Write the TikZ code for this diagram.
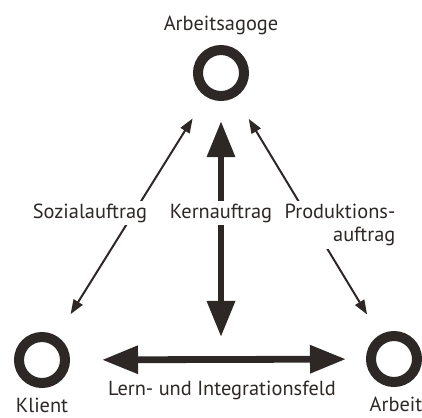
\documentclass[tikz,border=0pt]{standalone}
\usepackage{fontspec}
\setmainfont{PT Sans}
\usepackage{tikz}
\usetikzlibrary{positioning,arrows.meta}
\definecolor{inkdark}{RGB}{45,40,38}
\tikzset{
  ring/.style={circle,draw=inkdark,line width=0.25cm,minimum size=1.15cm,inner sep=0pt},
  tag/.style={font=\fontsize{14.5}{16.5}\selectfont,text=inkdark,inner sep=1pt},
  cuttag/.style={tag,fill=white,inner sep=2pt},
  bigedge/.style={{Triangle[length=0.9cm,width=0.67cm]}-{Triangle[length=0.9cm,width=0.67cm]},line width=0.17cm,draw=inkdark},
  thinedge/.style={{Triangle[length=0.36cm,width=0.26cm]}-{Triangle[length=0.36cm,width=0.26cm]},line width=0.05cm,draw=inkdark}
}

\begin{document}
\begin{tikzpicture}[x=0.025cm,y=-0.025cm]
  \useasboundingbox (0,0) rectangle (422,417);
  % die drei Pole
  \node[ring] (agoge) at (221,73) {};
  \node[ring] (klient) at (42,360) {};
  \node[ring] (arbeit) at (394,359) {};
  \node[tag] (agogetxt) at (221,25) {Arbeitsagoge};
  \node[tag] (klienttxt) at (42,405) {Klient};
  \node[tag] (arbeittxt) at (396,404) {Arbeit};
  \coordinate (kernend) at (221,337);
  % Verbindungen
  \draw[thinedge,shorten <=0.65cm,shorten >=0.64cm] (klient) -- (agoge);
  \draw[thinedge,shorten <=0.64cm,shorten >=0.6cm] (agoge) -- (arbeit);
  \draw[bigedge,shorten <=0.5cm] (agoge) -- (kernend);
  \draw[bigedge,shorten <=0.8cm,shorten >=0.5cm] (klient) -- (arbeit);
  % Beschriftungen
  \node[cuttag] (sozial) at (90,213) {Sozialauftrag};
  \node[cuttag] (kern) at (221,213) {Kernauftrag};
  \node[cuttag,align=right] (produktion) at (340,225) {Produktions-\\auftrag};
  \node[tag] (feld) at (222,390) {Lern- und Integrationsfeld};
\end{tikzpicture}
\end{document}
